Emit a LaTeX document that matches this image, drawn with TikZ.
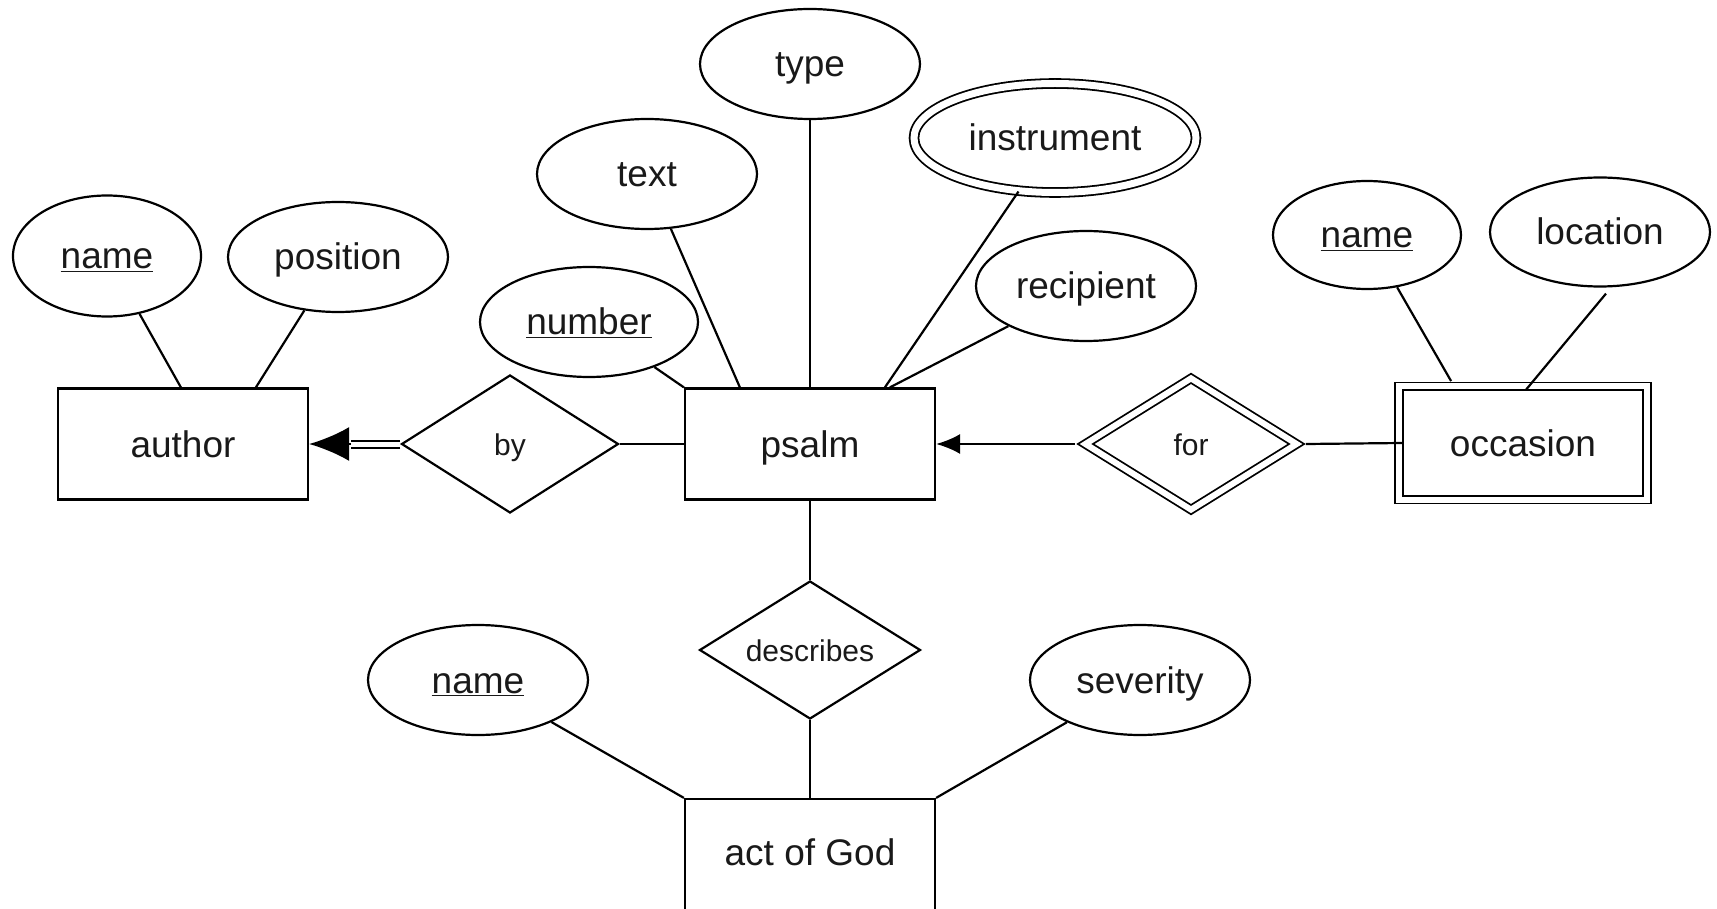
\documentclass[tikz,border=0pt]{standalone}
\usepackage{fontspec}
\setmainfont{Liberation Sans}
\usetikzlibrary{shapes.geometric,arrows.meta,calc}
\begin{document}
\begin{tikzpicture}[x=1pt,y=-1pt,line width=2.2pt,
  every node/.style={font=\fontsize{37}{44}\selectfont,text=black!90,text height=34pt,text depth=8pt},
  entity/.style={draw,rectangle,minimum width=250pt,minimum height=111pt,inner sep=0pt},
  attr/.style={draw,ellipse,inner sep=0pt,minimum width=220pt,minimum height=110pt},
  rel/.style={draw,diamond,inner sep=0pt,aspect=1.6,font=\fontsize{30}{36}\selectfont,text height=29pt,text depth=6pt},
  dbl/.style={double,double distance=6pt,line width=1.8pt},
  conn/.style={line width=2.2pt}
]
\useasboundingbox (0,0) rectangle (1717,909);

% entities
\node[entity] (author) at (183,444) {author};
\node[entity] (psalm) at (810,444) {psalm};
\node[entity,minimum height=114pt,text depth=14.5pt] (act) at (810,856) {act of God};
\node[entity,dbl,minimum width=248pt,minimum height=113pt] (occasion) at (1523,443) {occasion};

% relationships
\node[rel,minimum width=217pt,minimum height=138pt] (by) at (510,444) {by};
\node[rel,dbl,minimum width=212pt,minimum height=132pt] (for) at (1191,444) {for};
\node[rel,minimum width=221pt,minimum height=138pt] (describes) at (810,650) {describes};

% attributes
\node[attr,minimum width=188pt,minimum height=121pt] (aname) at (107,256) {\underline{name}};
\node[attr] (position) at (338,257) {position};
\node[attr,minimum width=218pt] (number) at (589,322) {\underline{number}};
\node[attr] (text) at (647,174) {text};
\node[attr] (type) at (810,64) {type};
\node[attr,dbl,double distance=7pt,minimum width=282pt,minimum height=109pt] (instrument) at (1055,138) {instrument};
\node[attr] (recipient) at (1086,286) {recipient};
\node[attr,minimum width=188pt,minimum height=108pt] (oname) at (1367,235) {\underline{name}};
\node[attr,minimum height=109pt] (location) at (1600,232) {location};
\node[attr] (gname) at (478,680) {\underline{name}};
\node[attr] (severity) at (1140,680) {severity};

% attribute connectors
\draw[conn] ($(author.north west)+(124,0)$) -- (aname);
\draw[conn] ($(author.north west)+(199,0)$) -- (position);
\draw[conn] (psalm.north west) -- (number);
\draw[conn] ($(psalm.north west)+(56,0)$) -- (text);
\draw[conn] (psalm.north) -- (type);
\draw[conn] ($(psalm.north west)+(201,0)$) -- (instrument);
\draw[conn] ($(psalm.north west)+(206,0)$) -- (recipient);
\draw[conn] ($(occasion.north west)+(53,-4.5)$) -- (oname);
\coordinate (locend) at ($(location.south)+(6,6)$);
\draw[conn] ($(occasion.north west)+(128,4)$) -- (locend);
\draw[conn] (act.north west) -- (gname);
\draw[conn] (act.north east) -- (severity);

% relationship connectors
\coordinate (bybase) at ($(author.east)+(42,0)$);
\draw[conn,-{Latex[length=40pt,width=34pt]}] (by.west) -- (author.east);
\draw[double,double distance=5pt,line width=2pt] (by.west) -- (bybase);
\draw[conn] (by.east) -- (psalm.west);
\draw[conn,-{Latex[length=24pt,width=20pt]}] ($(for.west)+(-9,0)$) -- (psalm.east);
\draw[conn] ($(for.east)+(8,0)$) -- ($(occasion.west)+(4,0)$);
\draw[conn] (psalm.south) -- (describes.north);
\draw[conn] (describes.south) -- (act.north);
\end{tikzpicture}
\end{document}
